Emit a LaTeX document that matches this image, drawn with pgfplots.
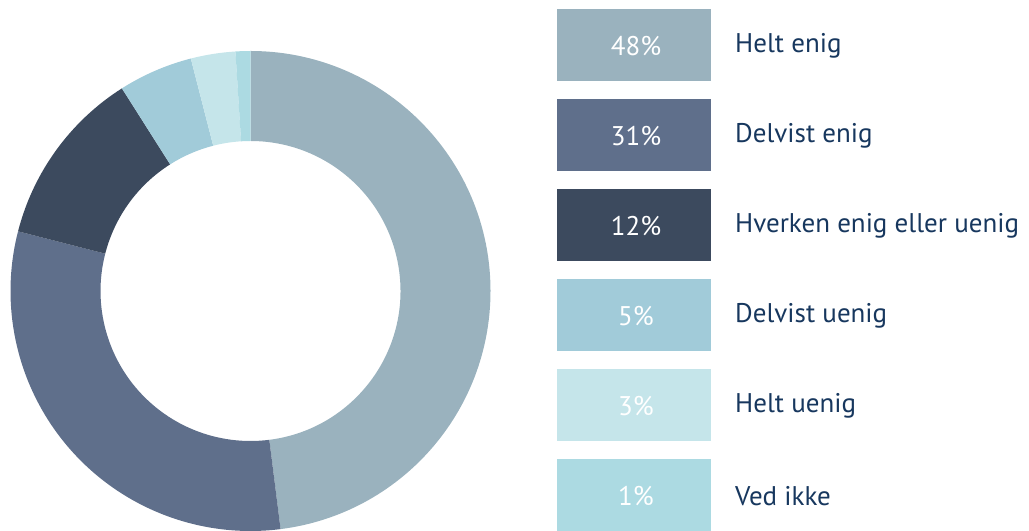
\documentclass[border=0pt]{standalone}
\usepackage{pgfplots}
\pgfplotsset{compat=1.18}
\usepackage{fontspec}
\setmainfont{PT Sans}
\definecolor{s1}{HTML}{9AB2BE}
\definecolor{s2}{HTML}{5F6F8B}
\definecolor{s3}{HTML}{3C4A5E}
\definecolor{s4}{HTML}{A1CBD9}
\definecolor{s5}{HTML}{C5E5EA}
\definecolor{s6}{HTML}{ACDAE2}
\definecolor{txt}{HTML}{17375E}
\newcommand\pctfont{\fontsize{27bp}{30bp}\selectfont}
\newcommand\labfont{\fontsize{27bp}{30bp}\selectfont}
\begin{document}
\begin{tikzpicture}
\begin{axis}[
  hide axis, scale only axis, width=1029bp, height=531bp,
  xmin=0, xmax=1029, ymin=0, ymax=531, clip=false]
% donut: value/colour, clockwise from top
\gdef\angA{90}
\foreach \val/\col in {48/s1,31/s2,12/s3,5/s4,3/s5,1/s6}{
  \pgfmathsetmacro{\angB}{\angA-3.6*\val}
  \edef\tmp{\noexpand\fill[\col] (axis cs:250.5,240) ++(\angA:240bp) arc[start angle=\angA, end angle=\angB, radius=240bp]
     -- ++(\angB:-90bp) arc[start angle=\angB, end angle=\angA, radius=150bp] -- cycle;}
  \tmp
  \global\let\angA\angB
}
% legend boxes
\foreach \idx/\val/\col/\lab in {0/48/s1/Helt enig,1/31/s2/Delvist enig,2/12/s3/Hverken enig eller uenig,3/5/s4/Delvist uenig,4/3/s5/Helt uenig,5/1/s6/Ved ikke}{
  \pgfmathsetmacro{\yt}{522-90*\idx}
  \pgfmathsetmacro{\yb}{450-90*\idx}
  \pgfmathsetmacro{\ym}{485-90*\idx}
  \edef\tmp{\noexpand\fill[\col] (axis cs:557,\yb) rectangle (axis cs:711,\yt);
  \noexpand\node[text=white, font=\noexpand\pctfont, anchor=center] at (axis cs:636,\ym) {\val\noexpand\%};
  \noexpand\node[text=txt, font=\noexpand\labfont, anchor=west, inner sep=0pt] at (axis cs:735,\ym) {\lab};}
  \tmp
}
\end{axis}
\pgfresetboundingbox
\path (current axis.south west) rectangle (current axis.north east);
\end{tikzpicture}
\end{document}
